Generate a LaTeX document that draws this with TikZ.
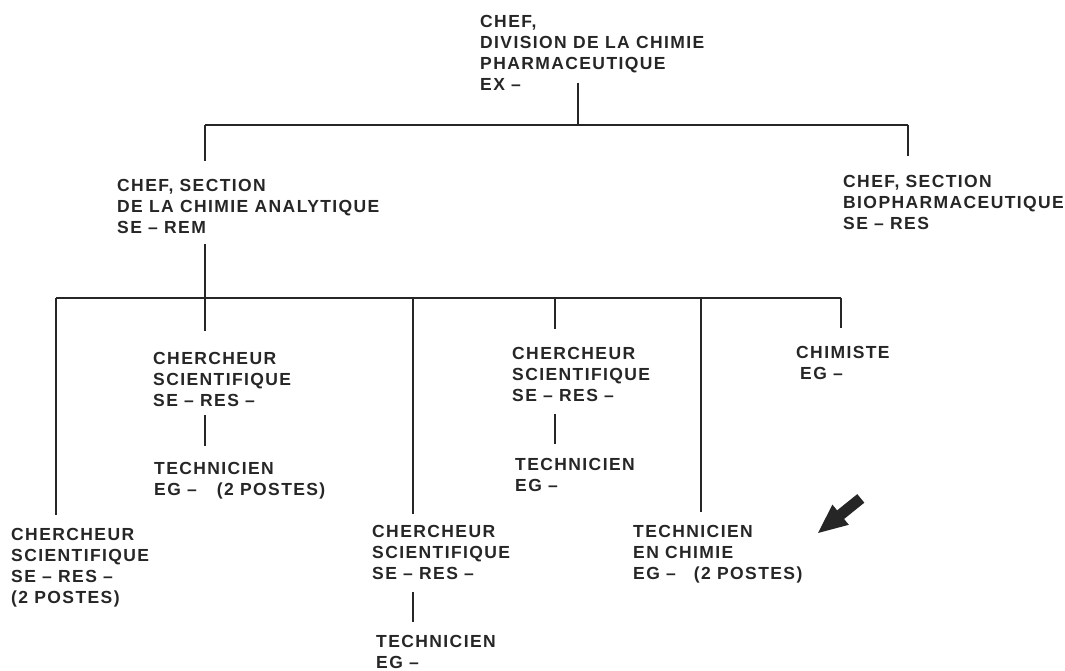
\documentclass[tikz,border=0pt]{standalone}
\usepackage{fontspec}
\newfontfamily\orgfont[LetterSpace=8]{Liberation Sans}
\definecolor{ink}{HTML}{262626}
\begin{document}
\begin{tikzpicture}[x=1pt,y=-1pt,
  post/.style={anchor=north west, inner sep=0pt, align=left, text=ink,
    font=\orgfont\bfseries\fontsize{17.5}{21}\selectfont},
  link/.style={draw=ink, line width=1.7pt}]
\useasboundingbox (0,0) rectangle (1065,671);

% ---- posts ----
\node[post] (top)  at (480,15)  {CHEF,\\DIVISION DE LA CHIMIE\\PHARMACEUTIQUE\\EX –};
\node[post] (sec1) at (117,179) {CHEF, SECTION\\DE LA CHIMIE ANALYTIQUE\\SE – REM};
\node[post] (sec2) at (843,175) {CHEF, SECTION\\BIOPHARMACEUTIQUE\\SE – RES};
\node[post] (c1)   at (11,528)  {CHERCHEUR\\SCIENTIFIQUE\\SE – RES –\\(2 POSTES)};
\node[post] (c2)   at (153,352) {CHERCHEUR\\SCIENTIFIQUE\\SE – RES –};
\node[post] (t2)   at (154,462) {TECHNICIEN\\EG –\hspace{20pt}(2 POSTES)};
\node[post] (c3)   at (372,525) {CHERCHEUR\\SCIENTIFIQUE\\SE – RES –};
\node[post] (t3)   at (376,635) {TECHNICIEN\\EG –};
\node[post] (c4)   at (512,347) {CHERCHEUR\\SCIENTIFIQUE\\SE – RES –};
\node[post] (t4)   at (515,458) {TECHNICIEN\\EG –};
\node[post] (tc)   at (633,525) {TECHNICIEN\\EN CHIMIE\\EG –\hspace{18pt}(2 POSTES)};
\node[post] (ch)   at (796,346) {CHIMISTE\\\hspace{4pt}EG –};

% ---- junction points ----
\coordinate (b1)  at (578,125);
\coordinate (b1l) at (205,125);
\coordinate (b1r) at (908,125);
\coordinate (b2a) at (56,298);
\coordinate (b2b) at (205,298);
\coordinate (b2c) at (413,298);
\coordinate (b2d) at (555,298);
\coordinate (b2e) at (701,298);
\coordinate (b2f) at (841,298);

% ---- division level ----
\draw[link] ([yshift=8pt]top.south -| b1) -- (b1);
\draw[link] (b1l) -- (b1r);
\draw[link] (b1l) -- ([yshift=18pt]sec1.north -| b1l);
\draw[link] (b1r) -- ([yshift=19pt]sec2.north -| b1r);

% ---- analytical section ----
\draw[link] ([yshift=-10pt]sec1.south -| b2b) -- (b2b);
\draw[link] (b2a) -- (b2f);
\draw[link] (b2a) -- ([yshift=13pt]c1.north -| b2a);
\draw[link] (b2b) -- ([yshift=21pt]c2.north -| b2b);
\draw[link] (b2c) -- ([yshift=11pt]c3.north -| b2c);
\draw[link] (b2d) -- ([yshift=18pt]c4.north -| b2d);
\draw[link] (b2e) -- ([yshift=13pt]tc.north -| b2e);
\draw[link] (b2f) -- ([yshift=18pt]ch.north -| b2f);

% ---- technicians under researchers ----
\draw[link] ([yshift=-8pt]c2.south -| b2b) -- ([yshift=16pt]t2.north -| b2b);
\draw[link] ([yshift=-12pt]c4.south -| b2d) -- ([yshift=14pt]t4.north -| b2d);
\draw[link] ([yshift=-12pt]c3.south -| b2c) -- ([yshift=13pt]t3.north -| b2c);

% ---- pointer ----
\fill[ink] (818,533) -- (832.4,504.6) -- (837.1,510.4) -- (857.3,494.1)
  -- (864.3,502.7) -- (844.1,519) -- (848.8,524.8) -- cycle;
\end{tikzpicture}
\end{document}
